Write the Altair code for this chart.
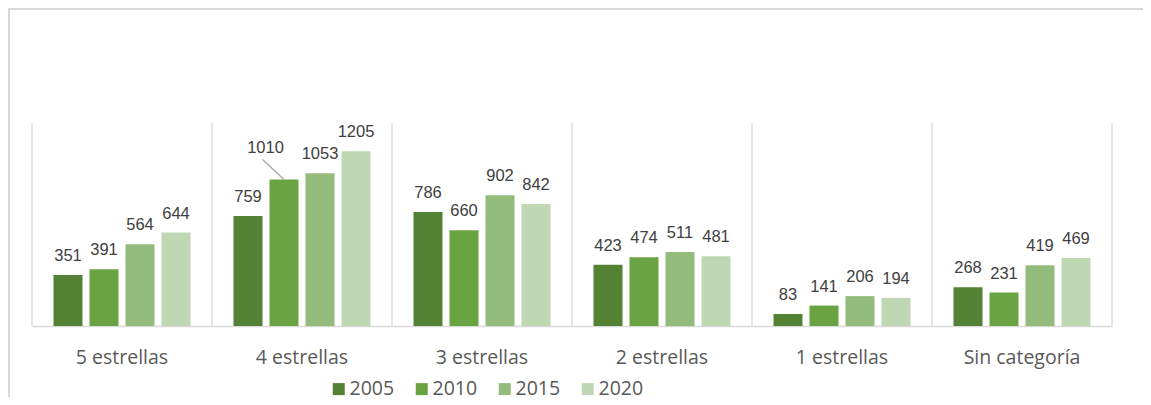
import altair as alt
import pandas as pd

categories = ["5 estrellas", "4 estrellas", "3 estrellas", "2 estrellas", "1 estrellas", "Sin categoría"]
years = ["2005", "2010", "2015", "2020"]
v2005 = [351, 759, 786, 423, 83, 268]
v2010 = [391, 1010, 660, 474, 141, 231]
v2015 = [564, 1053, 902, 511, 206, 419]
v2020 = [644, 1205, 842, 481, 194, 469]
colors = ["#548235", "#6AA342", "#93BB7B", "#BFD7B3"]

series = {"2005": v2005, "2010": v2010, "2015": v2015, "2020": v2020}
rows = []
for y in years:
    for c, v in zip(categories, series[y]):
        rows.append({"cat": c, "year": y, "value": v})
df = pd.DataFrame(rows)

W, H = 1080, 203
PAD_R = 31
GRID = "#D9D9D9"

x_axis = alt.Axis(title=None, labelAngle=0, ticks=False, domainColor=GRID, domainWidth=1.5,
                  labelFont="Open Sans", labelFontSize=19.5, labelColor="#595959",
                  labelPadding=22, grid=False)
x_scale = alt.Scale(paddingInner=0, paddingOuter=0)
x_enc = alt.X("cat:N", sort=categories, scale=x_scale, axis=x_axis)
xo_enc = alt.XOffset("year:N", sort=years, scale=alt.Scale(paddingInner=0.194, paddingOuter=0.597))
y_enc = alt.Y("value:Q", scale=alt.Scale(domain=[0, 1400], nice=False), axis=None)

base = alt.Chart(df)

bars = base.mark_bar().encode(
    x=x_enc, xOffset=xo_enc, y=y_enc,
    color=alt.Color("year:N", sort=years, scale=alt.Scale(domain=years, range=colors),
                    legend=alt.Legend(title=None, orient="none", legendX=297, legendY=256,
                                      direction="horizontal", symbolType="square", symbolSize=144,
                                      symbolStrokeWidth=0, labelFont="Open Sans", labelFontSize=19.5,
                                      labelColor="#595959", labelOffset=1, columnPadding=17, padding=0)),
)

labels = base.transform_filter(
    "!(datum.cat == '4 estrellas' && datum.year == '2010')"
).mark_text(font="Liberation Sans", fontSize=16.5, color="#404040", baseline="alphabetic", dy=-14).encode(
    x=x_enc, xOffset=xo_enc, y=y_enc, text="value:Q"
)

moved = base.transform_filter(
    "datum.cat == '4 estrellas' && datum.year == '2010'"
)
moved_label = moved.mark_text(font="Liberation Sans", fontSize=16.5, color="#404040",
                              baseline="alphabetic", dx=-18.5, dy=-27).encode(
    x=x_enc, xOffset=xo_enc, y=y_enc, text="value:Q"
)
leader = moved.mark_rule(color="#A6A6A6", strokeWidth=1.3).encode(
    x=x_enc, xOffset=xo_enc, y=y_enc, x2=alt.value(230.5), y2=alt.value(36.5)
)

sep_df = pd.DataFrame({"cat": categories})
separators = alt.Chart(sep_df).mark_rule(color=GRID, strokeWidth=1.3).encode(
    x=alt.X("cat:N", sort=categories, scale=x_scale, axis=x_axis, bandPosition=0),
    y=alt.value(0), y2=alt.value(H),
)
right_edge = alt.Chart(alt.Data(values=[{}])).mark_rule(color=GRID, strokeWidth=1.3).encode(
    x=alt.value(W), y=alt.value(0), y2=alt.value(H)
)

frame = alt.Chart(alt.Data(values=[{}])).mark_rect(
    fill=None, fillOpacity=0, stroke=GRID, strokeWidth=2
).encode(
    x=alt.value(-23), x2=alt.value(W + PAD_R + 40), y=alt.value(-114), y2=alt.value(H + 120)
)

chart = alt.layer(
    frame, bars, separators, right_edge, labels, leader, moved_label
).properties(
    width=W, height=H,
    padding={"left": 24, "top": 115, "right": PAD_R, "bottom": 71},
    autosize="none",
    background="white",
).configure_view(stroke=None)

chart.save("out.html", embed_options={"renderer": "svg", "actions": False})
